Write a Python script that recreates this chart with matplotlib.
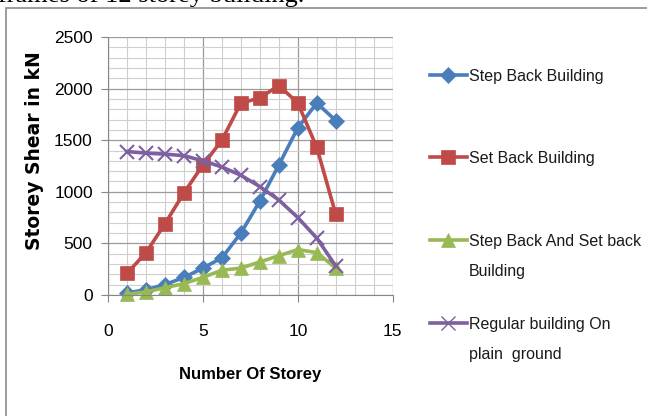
import numpy as np
import matplotlib.pyplot as plt
from matplotlib.lines import Line2D
from matplotlib.patches import Rectangle
from matplotlib.ticker import MultipleLocator

# Data
storey = [1, 2, 3, 4, 5, 6, 7, 8, 9, 10, 11, 12]
step_back = [20, 50, 100, 170, 260, 360, 600, 910, 1260, 1620, 1860, 1690]
set_back = [210, 410, 690, 990, 1260, 1500, 1860, 1910, 2030, 1860, 1430, 780]
step_set_back = [5, 30, 70, 110, 170, 240, 260, 320, 380, 440, 410, 260]
regular = [1390, 1375, 1365, 1350, 1300, 1240, 1160, 1050, 920, 750, 550, 280]

series_labels = ["Step Back Building", "Set Back Building",
                 "Step Back And Set back\nBuilding", "Regular building On\nplain  ground"]
colors = ['#4A7EBB', '#BE4B48', '#98B954', '#7D60A0']
markers = ['D', 's', '^', 'x']
msizes = [8, 10, 10, 10]

font = ['Liberation Sans', 'DejaVu Sans']

fig = plt.figure(figsize=(6.47, 4.16), dpi=100)
ax = fig.add_axes([0.167, 0.291, 0.440, 0.620])

for ys, c, m, ms in zip([step_back, set_back, step_set_back, regular], colors, markers, msizes):
    ax.plot(storey, ys, color=c, marker=m, markersize=ms, linewidth=2.6,
            markeredgewidth=1.5 if m == 'x' else 0.5, markeredgecolor=c, clip_on=False)

ax.set_xlim(0, 15)
ax.set_ylim(0, 2500)
ax.xaxis.set_major_locator(MultipleLocator(5))
ax.xaxis.set_minor_locator(MultipleLocator(1))
ax.yaxis.set_major_locator(MultipleLocator(500))
ax.yaxis.set_minor_locator(MultipleLocator(100))
ax.grid(which='major', color='#9a9a9a', linewidth=0.9)
ax.grid(which='minor', color='#cfcfcf', linewidth=0.8)
ax.set_axisbelow(True)
for s in ['top', 'right']:
    ax.spines[s].set_visible(False)
for s in ['left', 'bottom']:
    ax.spines[s].set_color('#868686')
ax.tick_params(which='major', length=5, color='#868686', labelsize=12.5)
ax.tick_params(axis='x', pad=16)
ax.tick_params(axis='y', pad=6)
ax.tick_params(which='minor', length=0)
for lab in ax.get_xticklabels() + ax.get_yticklabels():
    lab.set_family(font)

ax.set_ylabel('Storey Shear in kN', fontsize=13.5, fontweight='bold')
ax.yaxis.set_label_coords(-0.224, 0.558)
ax.set_xlabel('Number Of Storey', fontsize=12, fontweight='bold', family=font)
ax.xaxis.set_label_coords(0.5, -0.278)

# legend drawn by hand so handles line up with the first line of text
leg_y = [75, 157, 240, 323]
for c, m, ms, lab, yp in zip(colors, markers, msizes, series_labels, leg_y):
    yf = 1 - yp / 416
    fig.add_artist(Line2D([430 / 647, 448 / 647, 467 / 647], [yf, yf, yf], transform=fig.transFigure,
                          color=c, linewidth=2.6, marker=m, markersize=ms, markevery=[1],
                          markeredgewidth=1 if m == 'x' else 0.5, markeredgecolor=c))
    for i, line in enumerate(lab.split('\n')):
        fig.text(469 / 647, yf - i * 30 / 416, line, ha='left', va='center_baseline',
                 fontsize=11.5, family=font, color='#1a1a1a')

# frame around the chart and the cut caption above it
fig.add_artist(Rectangle((6 / 647, -0.1), 1.2, 1 - 8 / 416 + 0.1, transform=fig.transFigure,
                         fill=False, edgecolor='#8c8c8c', linewidth=1.2))
fig.text(-2 / 647, 1 - 2 / 416, 'frames of 12 storey building.', ha='left', va='baseline',
         fontsize=19, family='Liberation Serif')

fig.savefig('out.png', dpi=100)
